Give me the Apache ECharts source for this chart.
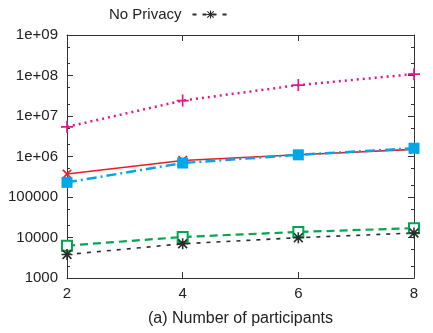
<!DOCTYPE html>
<html><head><meta charset="utf-8">
<script src="https://cdn.jsdelivr.net/npm/echarts@6/dist/echarts.min.js"></script>
<style>html,body{margin:0;padding:0;background:#fff}#c{width:433px;height:333px}</style>
</head><body><div id="c"></div>
<script>
const participants = [2, 4, 6, 8];
const seriesNames = ['Series A', 'Series B', 'Series C', 'Series D', 'No Privacy'];
const valsMagenta = [5.4e6, 2.4e7, 5.8e7, 1.08e8];
const valsRed = [3.7e5, 8.0e5, 1.1e6, 1.5e6];
const valsBlue = [2.3e5, 6.9e5, 1.1e6, 1.6e6];
const valsGreen = [6300, 10300, 13700, 17000];
const valsBlack = [3800, 7000, 9900, 12900];
const xTicks = [2, 4, 6, 8];
const yMajorTicks = [1e3, 1e4, 1e5, 1e6, 1e7, 1e8, 1e9];
const yMajorLabels = ['1000', '10000', '100000', '1e+06', '1e+07', '1e+08', '1e+09'];
const yMinorTicks = [2e3, 5e3, 2e4, 5e4, 2e5, 5e5, 2e6, 5e6, 2e7, 5e7, 2e8, 5e8];

const FONT = 'Liberation Sans';
const AX = '#333';
const TXT = '#222';
function pairs(v) { return participants.map((x, i) => [x, v[i]]); }

const plusPath = 'path://M-0.7,-5H0.7V-0.7H5V0.7H0.7V5H-0.7V0.7H-5V-0.7H-0.7Z';
const starPath = 'path://M-0.7,-5H0.7V-0.7H5V0.7H0.7V5H-0.7V0.7H-5V-0.7H-0.7Z M-3.5,-4.5L4.5,3.5L3.5,4.5L-4.5,-3.5Z M3.5,-4.5L4.5,-3.5L-3.5,4.5L-4.5,3.5Z';

const yBase = {type: 'log', logBase: 10, min: 1e3, max: 1e9, interval: 1,
  splitLine: {show: false}, minorTick: {show: false}, minorSplitLine: {show: false}};

const chart = echarts.init(document.getElementById('c'));
chart.setOption({
  animation: false,
  textStyle: {fontFamily: FONT},
  legend: {
    data: ['No Privacy'], left: 104, top: 2, align: 'right',
    itemWidth: 36, itemHeight: 10, itemGap: 10,
    textStyle: {fontFamily: FONT, fontSize: 15, color: TXT, padding: [0, 6, 0, 0]}
  },
  grid: {left: 67, right: 19, top: 35, bottom: 55},
  xAxis: [{
    type: 'value', min: 2, max: 8, interval: 2, position: 'bottom',
    name: '(a) Number of participants', nameLocation: 'middle', nameGap: 33,
    nameTextStyle: {fontFamily: FONT, fontSize: 16, color: TXT},
    axisLine: {show: true, lineStyle: {color: AX, width: 1}},
    axisTick: {show: true, inside: true, length: 6, lineStyle: {color: AX}, customValues: xTicks},
    axisLabel: {fontFamily: FONT, fontSize: 15, color: TXT, margin: 8, customValues: xTicks},
    splitLine: {show: false}
  }, {
    type: 'value', min: 2, max: 8, interval: 2, position: 'top',
    axisLine: {show: true, lineStyle: {color: AX, width: 1}},
    axisTick: {show: true, inside: true, length: 6, lineStyle: {color: AX}, customValues: xTicks},
    axisLabel: {show: false}, splitLine: {show: false}
  }],
  yAxis: [Object.assign({}, yBase, {
    position: 'left',
    axisLine: {show: true, lineStyle: {color: AX, width: 1}},
    axisTick: {show: true, inside: true, length: 6, lineStyle: {color: AX}, customValues: yMajorTicks},
    axisLabel: {fontFamily: FONT, fontSize: 15, color: TXT, margin: 9, customValues: yMajorTicks,
      formatter: v => yMajorLabels[Math.round(Math.log10(v)) - 3]}
  }), Object.assign({}, yBase, {
    position: 'left',
    axisLine: {show: false},
    axisTick: {show: true, inside: true, length: 3, lineStyle: {color: AX}, customValues: yMinorTicks},
    axisLabel: {show: false}
  }), Object.assign({}, yBase, {
    position: 'right',
    axisLine: {show: true, lineStyle: {color: AX, width: 1}},
    axisTick: {show: true, inside: true, length: 6, lineStyle: {color: AX}, customValues: yMajorTicks},
    axisLabel: {show: false}
  }), Object.assign({}, yBase, {
    position: 'right',
    axisLine: {show: false},
    axisTick: {show: true, inside: true, length: 3, lineStyle: {color: AX}, customValues: yMinorTicks},
    axisLabel: {show: false}
  })],
  series: [{
    name: seriesNames[0], type: 'line', data: pairs(valsMagenta),
    symbol: plusPath, symbolSize: 12, symbolKeepAspect: true,
    lineStyle: {color: '#e5168a', width: 2.5, type: [2, 4]},
    itemStyle: {color: '#e5168a'}
  }, {
    name: seriesNames[1], type: 'line', data: pairs(valsRed),
    symbol: plusPath, symbolRotate: 45, symbolSize: 12, symbolKeepAspect: true,
    lineStyle: {color: '#ec1c24', width: 1.6, type: 'solid'},
    itemStyle: {color: '#ec1c24'}
  }, {
    name: seriesNames[2], type: 'line', data: pairs(valsBlue),
    symbol: 'rect', symbolSize: 11,
    lineStyle: {color: '#00a6e9', width: 2.5, type: [10, 4, 2, 4]},
    itemStyle: {color: '#00a6e9'}
  }, {
    name: seriesNames[3], type: 'line', data: pairs(valsGreen),
    symbol: 'emptyRect', symbolSize: 10,
    lineStyle: {color: '#00a651', width: 2.2, type: [8, 5]},
    itemStyle: {color: '#00a651', borderColor: '#00a651', borderWidth: 2}
  }, {
    name: seriesNames[4], type: 'line', data: pairs(valsBlack),
    symbol: starPath, symbolSize: 11, symbolKeepAspect: true,
    lineStyle: {color: '#2b2b2b', width: 1.6, type: [4, 6]},
    itemStyle: {color: '#2b2b2b'}
  }]
});
</script></body></html>
